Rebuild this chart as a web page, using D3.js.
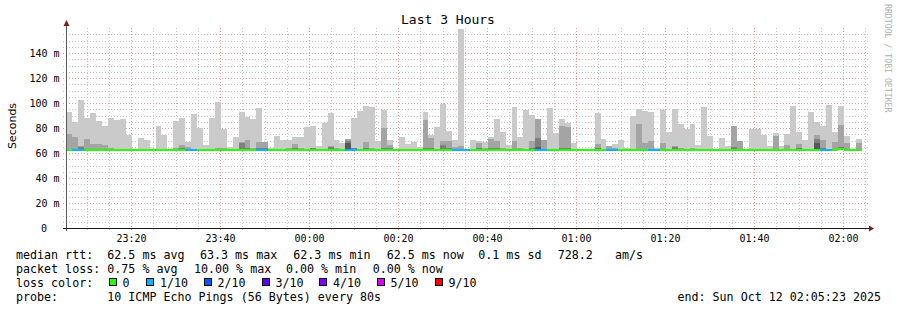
<!DOCTYPE html>
<html><head><meta charset="utf-8">
<script src="https://cdn.jsdelivr.net/npm/d3@7"></script>
<style>
html,body{margin:0;padding:0;background:#fff;}
svg{display:block;}
text{font-family:"DejaVu Sans Mono",monospace;white-space:pre;}
</style></head><body>
<svg id="c" width="897" height="310"></svg>
<script>
// ---------- data ----------
const chartTitle = "Last 3 Hours";
const yLabel = "Seconds";
const yTickValues = [0, 20, 40, 60, 80, 100, 120, 140];
const yMaxMs = 160;
const timeStart = "2025-10-11T23:05:23";
const timeEnd = "2025-10-12T02:05:23";
const firstBarTime = "2025-10-11T23:05:30";
const stepSeconds = 80;

// sorted pings per 80s step (ms): highest ping, 9th, 8th, 7th
const rttMax = [93.1,85.1,102.7,88.3,92.3,85.9,81.9,88.3,86.7,87.5,74.1,62.5,72.3,70.7,62.5,81.9,74.7,62.5,85.9,88.3,
69.1,91.5,80.3,66.7,88.3,101.1,79.5,65.1,73.1,93.1,89.1,87.5,96.3,69.1,64.3,73.9,70.7,70.7,73.1,73.1,
81.1,81.9,65.9,84.3,92.3,70.7,68.3,71.5,88.3,93.9,97.9,97.1,69.9,94.7,70.7,62.5,73.1,67.5,69.1,65.1,
93.1,74.7,81.1,99.5,77.9,70.7,159.5,62.5,70.7,69.9,69.1,73.1,87.5,77.1,66.7,97.1,73.1,94.7,90.7,87.5,
70.7,96.3,76.3,87.5,84.3,68.3,62.5,62.5,62.5,92.3,71.5,65.9,67.5,70.7,64.3,89.9,95.5,93.9,93.1,64.3,
94.7,77.1,95.5,83.5,79.5,83.5,66.7,97.1,73.9,62.5,72.3,65.9,81.9,69.9,62.5,79.5,79.5,74.7,65.9,76.3,
65.9,75.5,97.9,77.1,70.7,93.1,85.1,81.9,98.7,77.1,97.9,73.9,62.5,71.5];
const rttP9 = [75.5,73.0,65.6,71.5,67.5,67.5,66.7,63.7,62.5,62.5,62.5,62.5,62.5,62.5,62.5,62.5,62.5,62.5,63.7,66.7,
64.5,62.5,62.5,62.5,62.5,63.7,63.7,62.5,62.5,69.1,70.7,63.7,69.1,69.1,62.5,62.5,62.5,64.3,67.5,63.7,
62.5,64.3,62.5,62.5,65.9,64.3,62.5,71.5,64.3,62.5,69.1,64.3,62.5,80.3,66.7,62.5,62.5,62.5,62.5,62.5,
86.7,72.3,62.5,69.9,69.9,64.5,65.9,62.5,62.5,68.3,64.3,71.5,69.9,64.3,62.5,69.9,64.3,62.5,69.9,87.5,
70.7,62.5,62.5,81.9,81.1,62.5,62.5,62.5,62.5,67.5,62.5,65.9,63.7,63.5,62.5,62.5,83.5,68.3,69.9,62.5,
68.3,62.5,65.9,63.7,62.5,63.7,62.5,62.5,62.5,62.5,62.5,62.5,81.9,69.9,62.5,62.5,62.5,62.5,62.5,73.9,
62.5,66.7,62.5,67.5,62.5,62.5,74.7,70.7,62.5,69.1,82.7,68.3,62.5,68.3];
const rttP8 = [63.5,63.5,64.8,63.5,63.5,63.5,62.5,62.5,62.5,62.5,62.5,62.5,62.5,62.5,62.5,62.5,62.5,62.5,62.5,64.3,
63.5,62.5,62.5,62.5,62.5,62.5,62.5,62.5,62.5,68.0,64.3,62.5,64.0,63.7,62.5,62.5,62.5,62.5,63.7,62.5,
62.5,63.7,62.5,62.5,64.5,62.5,62.5,70.0,63.7,62.5,63.7,62.5,62.5,64.3,64.0,62.5,62.5,62.5,62.5,62.5,
64.3,64.0,62.5,66.7,64.0,62.5,62.5,62.5,62.5,64.0,62.5,64.0,64.0,62.5,62.5,62.5,62.5,62.5,64.3,72.3,
62.5,62.5,62.5,63.7,63.7,62.5,62.5,62.5,62.5,64.0,62.5,62.5,62.5,62.5,62.5,62.5,62.5,62.5,62.5,62.5,
62.5,62.5,65.0,62.5,62.5,62.5,62.5,62.5,62.5,62.5,62.5,62.5,64.5,62.5,62.5,62.5,62.5,62.5,62.5,62.5,
62.5,62.5,62.5,64.3,62.5,62.5,71.5,64.0,62.5,62.5,65.0,62.5,62.5,62.5];
const rttP7 = [62.5,62.5,62.5,62.5,62.5,62.5,62.5,62.5,62.5,62.5,62.5,62.5,62.5,62.5,62.5,62.5,62.5,62.5,62.5,62.5,
62.5,62.5,62.5,62.5,62.5,62.5,62.5,62.5,62.5,62.5,62.5,62.5,62.5,62.5,62.5,62.5,62.5,62.5,62.5,62.5,
62.5,62.5,62.5,62.5,62.5,62.5,62.5,68.3,62.5,62.5,62.5,62.5,62.5,62.5,62.5,62.5,62.5,62.5,62.5,62.5,
62.5,62.5,62.5,62.5,62.5,62.5,62.5,62.5,62.5,62.5,62.5,62.5,62.5,62.5,62.5,62.5,62.5,62.5,62.5,64.5,
62.5,62.5,62.5,62.5,62.5,62.5,62.5,62.5,62.5,62.5,62.5,62.5,62.5,62.5,62.5,62.5,62.5,62.5,62.5,62.5,
62.5,62.5,62.5,62.5,62.5,62.5,62.5,62.5,62.5,62.5,62.5,62.5,62.5,62.5,62.5,62.5,62.5,62.5,62.5,62.5,
62.5,62.5,62.5,62.5,62.5,62.5,68.0,62.5,62.5,62.5,62.5,62.5,62.5,62.5];
const rttMedian = [62.5,62.5,62.5,62.5,62.5,62.5,62.5,62.5,62.5,62.5,62.5,62.5,62.5,62.5,62.5,62.5,62.5,62.5,62.5,62.5,
62.5,62.5,62.5,62.5,62.5,62.5,62.5,62.5,62.5,62.5,62.5,62.5,62.5,62.5,62.5,62.5,62.5,62.5,62.5,62.5,
62.5,62.5,62.5,62.5,62.5,62.5,62.5,62.5,62.5,62.5,62.5,62.5,62.5,62.5,62.5,62.5,62.5,62.5,62.5,62.5,
62.5,62.5,62.5,62.5,62.5,62.5,62.5,62.5,62.5,62.5,62.5,62.5,62.5,62.5,62.5,62.5,62.5,62.5,62.5,62.5,
62.5,62.5,62.5,62.5,62.5,62.5,62.5,62.5,62.5,62.5,62.5,62.5,62.5,62.5,62.5,62.5,62.5,62.5,62.5,62.5,
62.5,62.5,62.5,62.5,62.5,62.5,62.5,62.5,62.5,62.5,62.5,62.5,62.5,62.5,62.5,62.5,62.5,62.5,62.5,62.5,
62.5,62.5,62.5,62.5,62.5,62.5,62.5,62.5,62.5,62.3,63.3,62.5,62.5,62.5];
const lossCount = [0,1,1,0,0,0,0,0,0,0,0,0,0,0,0,0,0,0,0,0,
1,1,0,0,0,0,0,0,0,0,0,0,1,1,0,0,0,0,0,0,
0,0,0,0,0,0,0,1,1,0,0,0,0,0,0,0,0,0,0,0,
0,0,0,0,0,1,1,1,0,0,0,0,0,0,0,0,0,0,0,1,
1,0,0,0,0,0,0,0,0,0,0,1,1,0,0,0,0,0,1,1,
0,0,0,0,0,0,0,0,0,0,0,0,0,0,0,0,0,0,0,0,
0,0,0,0,0,0,0,1,1,0,0,0,0,0];

const lossLabels = ["0", "1/10", "2/10", "3/10", "4/10", "5/10", "9/10"];
const lossColors = ["#26ff00", "#00b8ff", "#0059ff", "#5e00ff", "#7e00ff", "#dd00ff", "#ff0000"];
const smokeColors = ["#cacaca", "#a4a4a4", "#7e7e7e", "#585858"];

const statsRow1 = [["median rtt:", 16], ["62.5 ms avg", 107.3], ["63.3 ms max", 200], ["62.3 ms min", 293.3], ["62.5 ms now", 386.7], ["0.1 ms sd", 478.3], ["728.2", 557.7], ["am/s", 615]];
const statsRow2 = [["packet loss:", 16], ["0.75 % avg", 107.3], ["10.00 % max", 194], ["0.00 % min", 286], ["0.00 % now", 372.7]];
const lossBoxX = [108.5, 146, 203.5, 261.5, 319, 376.5, 434.5];
const probeText = "10 ICMP Echo Pings (56 Bytes) every 80s";
const endText = "end: Sun Oct 12 02:05:23 2025";
const watermark = "RRDTOOL / TOBI OETIKER";

// ---------- layout ----------
const svg = d3.select("#c");
const X0 = 66, X1 = 867, YB = 228, YT = 28;
const t0 = new Date(timeStart), t1 = new Date(timeEnd);
const x = d3.scaleTime().domain([t0, t1]).range([X0, X1]);
const y = d3.scaleLinear().domain([0, yMaxMs]).range([YB, YT]);

svg.append("rect").attr("width", 897).attr("height", 310).attr("fill", "#fff");

const bars = rttMax.map((v, i) => {
  const s = new Date(new Date(firstBarTime).getTime() + i * stepSeconds * 1000);
  const e = new Date(s.getTime() + stepSeconds * 1000);
  return {s, e, med: rttMedian[i], levels: [v, rttP9[i], rttP8[i], rttP7[i]], loss: lossCount[i]};
});

// grid (under the smoke)
const gGrid = svg.append("g").attr("shape-rendering", "crispEdges");
const minorMs = d3.range(5, yMaxMs, 5).filter(v => v % 20 !== 0);
const majorMs = yTickValues.filter(v => v > 0);
const minorGrey = "#c4c4c4", majorRed = "#ee9a9a";
const dash = "1,2";
gGrid.selectAll(null).data(minorMs).enter().append("line")
  .attr("x1", X0 - 3).attr("x2", X1 + 2).attr("y1", v => Math.round(y(v)) + 0.5).attr("y2", v => Math.round(y(v)) + 0.5)
  .attr("stroke", minorGrey).attr("stroke-dasharray", dash);
const minorT = d3.timeMinute.every(5).range(t0, t1).filter(t => t.getMinutes() % 20 !== 0);
const majorT = d3.timeMinute.every(20).range(t0, t1);
gGrid.selectAll(null).data(minorT).enter().append("line")
  .attr("y1", YT).attr("y2", YB + 3).attr("x1", t => Math.round(x(t)) + 0.5).attr("x2", t => Math.round(x(t)) + 0.5)
  .attr("stroke", minorGrey).attr("stroke-dasharray", dash);
gGrid.selectAll(null).data(majorMs).enter().append("line")
  .attr("x1", X0 - 3).attr("x2", X1 + 2).attr("y1", v => Math.round(y(v)) + 0.5).attr("y2", v => Math.round(y(v)) + 0.5)
  .attr("stroke", majorRed).attr("stroke-dasharray", dash);
gGrid.selectAll(null).data(majorT).enter().append("line")
  .attr("y1", YT).attr("y2", YB + 3).attr("x1", t => Math.round(x(t)) + 0.5).attr("x2", t => Math.round(x(t)) + 0.5)
  .attr("stroke", majorRed).attr("stroke-dasharray", dash);

// smoke
const gSmoke = svg.append("g").attr("shape-rendering", "crispEdges");
smokeColors.forEach((col, li) => {
  gSmoke.selectAll(null).data(bars.filter(b => b.levels[li] > b.med)).enter().append("rect")
    .attr("x", b => Math.round(x(b.s)))
    .attr("width", b => Math.round(x(b.e)) - Math.round(x(b.s)))
    .attr("y", b => Math.round(y(b.levels[li])))
    .attr("height", b => Math.round(y(b.med)) - Math.round(y(b.levels[li])))
    .attr("fill", col);
});

// median line coloured by loss
const gMed = svg.append("g").attr("shape-rendering", "crispEdges");
gMed.selectAll(null).data(bars).enter().append("rect")
  .attr("x", b => Math.round(x(b.s)))
  .attr("width", b => Math.round(x(b.e)) - Math.round(x(b.s)))
  .attr("y", b => Math.round(y(b.med)) - 1)
  .attr("height", 2)
  .attr("fill", b => lossColors[Math.min(b.loss, lossColors.length - 1)]);

// axes
const gAx = svg.append("g");
gAx.append("line").attr("x1", X0 + 0.5).attr("x2", X0 + 0.5).attr("y1", YB + 3).attr("y2", 24)
  .attr("stroke", "#5a5a5a").attr("shape-rendering", "crispEdges");
gAx.append("line").attr("x1", X0 - 3).attr("x2", X1 + 3).attr("y1", YB + 0.5).attr("y2", YB + 0.5)
  .attr("stroke", "#1a1a1a").attr("shape-rendering", "crispEdges");
gAx.append("path").attr("d", `M${X0 - 2.5},${26} L${X0 + 3.5},${26} L${X0 + 0.5},${20} Z`).attr("fill", "#8a1a1a");
gAx.append("path").attr("d", `M${X1 + 2},${YB - 2.5} L${X1 + 2},${YB + 3.5} L${X1 + 7},${YB + 0.5} Z`).attr("fill", "#8a1a1a");

// y tick labels
const yAxisLabels = svg.append("g").attr("font-size", "10px").attr("fill", "#000");
yAxisLabels.selectAll(null).data(yTickValues).enter().append("text")
  .attr("x", v => v === 0 ? 47 : 59.5).attr("y", v => y(v) + 3.5).attr("text-anchor", "end")
  .text(v => v === 0 ? "0" : `${v} m`);

// x tick labels
const fmt = d3.timeFormat("%H:%M");
svg.append("g").attr("font-size", "10px").selectAll(null).data(majorT).enter().append("text")
  .attr("x", t => x(t) + 0.5).attr("y", 241.5).attr("text-anchor", "middle").text(t => fmt(t));

// title
svg.append("text").attr("x", 448).attr("y", 24).attr("text-anchor", "middle").attr("font-size", "13px").text(chartTitle);
// y label
svg.append("text").attr("transform", "translate(15.5,126) rotate(-90)").attr("text-anchor", "middle")
  .style("font-family", "'DejaVu Sans',sans-serif").attr("font-size", "11px").text(yLabel);
// watermark
svg.append("text").attr("transform", "translate(885,4) rotate(90)").attr("font-size", "8.2px").attr("fill", "#b0b0b0").text(watermark);

// legend
const gLeg = svg.append("g").attr("font-size", "11.66px").attr("fill", "#000");
statsRow1.forEach(([t, px]) => gLeg.append("text").attr("x", px).attr("y", 258.5).text(t));
statsRow2.forEach(([t, px]) => gLeg.append("text").attr("x", px).attr("y", 272.5).text(t));
gLeg.append("text").attr("x", 16).attr("y", 286.5).text("loss color:");
lossLabels.forEach((l, i) => {
  gLeg.append("rect").attr("x", lossBoxX[i] + 0.5).attr("y", 278.5).attr("width", 7).attr("height", 7)
    .attr("fill", lossColors[i]).attr("stroke", "#000").attr("stroke-width", 1).attr("shape-rendering", "crispEdges");
  gLeg.append("text").attr("x", lossBoxX[i] + 14).attr("y", 286.5).text(l);
});
gLeg.append("text").attr("x", 16).attr("y", 300.5).text("probe:");
gLeg.append("text").attr("x", 107.3).attr("y", 300.5).text(probeText);
gLeg.append("text").attr("x", 881).attr("y", 300.5).attr("text-anchor", "end").text(endText);
</script>
</body></html>
